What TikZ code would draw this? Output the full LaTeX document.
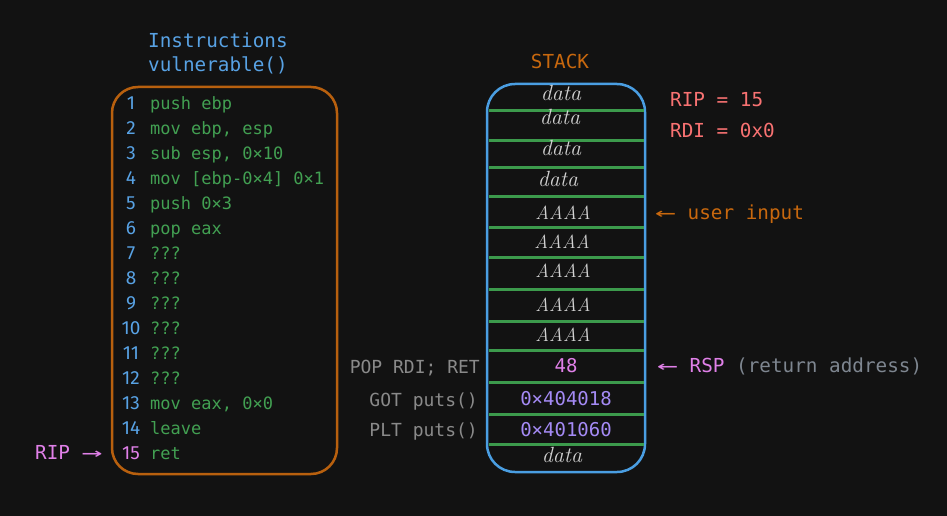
\documentclass[tikz,border=0pt]{standalone}
\usepackage{fontspec}
\newfontfamily\mono{DejaVu Sans Mono}
\newfontfamily\digits{Fira Sans}
\definecolor{bg}{HTML}{121212}
\definecolor{boxorange}{HTML}{B8600E}
\definecolor{txtorange}{HTML}{C8680E}
\definecolor{boxblue}{HTML}{4A9EE2}
\definecolor{numblue}{HTML}{58A2E4}
\definecolor{sepgreen}{HTML}{3C9A4C}
\definecolor{codegreen}{HTML}{42A052}
\definecolor{pinkc}{HTML}{E080E8}
\definecolor{purplec}{HTML}{A48AF4}
\definecolor{grayc}{HTML}{8A8A8A}
\definecolor{grayr}{HTML}{7E8690}
\definecolor{redc}{HTML}{F87272}
\definecolor{datac}{HTML}{D2D2D2}
\begin{document}
\begin{tikzpicture}[x=1pt,y=-1pt,
  ins/.style={anchor=mid west, inner sep=0pt, yshift=-4pt, text=codegreen, font=\mono\fontsize{17}{20}\selectfont},
  num/.style={anchor=mid, inner sep=0pt, yshift=-4pt, text=numblue, font=\digits\fontsize{19}{22}\selectfont},
  head/.style={anchor=mid west, inner sep=0pt, yshift=-4pt, font=\mono\fontsize{19.3}{22}\selectfont},
  hand/.style={anchor=mid, inner sep=0pt, yshift=-3pt, text=datac, font=\rmfamily\itshape\fontsize{22}{24}\selectfont},
  handA/.style={anchor=mid, inner sep=0pt, yshift=-4pt, text=datac, font=\rmfamily\itshape\fontsize{19}{22}\selectfont},
  val/.style={anchor=mid, inner sep=0pt, yshift=-4pt, font=\mono\fontsize{19}{22}\selectfont},
  lbl/.style={anchor=mid east, inner sep=0pt, yshift=-4pt, text=grayc, font=\mono\fontsize{18}{21}\selectfont},
  sep/.style={draw=sepgreen, line width=3pt}
]
\fill[bg] (0,0) rectangle (947,516);
\useasboundingbox (0,0) rectangle (947,516);

% Instructions header
\node[head, text=numblue] (h1) at (148,41) {Instructions};
\node[head, text=numblue] (h2) at (148,65) {vulnerable()};

% instruction box
\node[draw=boxorange, line width=2.5pt, rounded corners=26pt, minimum width=225pt, minimum height=387pt, inner sep=0pt] (ibox) at (224.5,280.5) {};

\foreach \n/\t [count=\k from 0] in {1/push ebp, 2/{mov ebp, esp}, 3/{sub esp, 0×10}, 4/{mov [ebp-0×4] 0×1}, 5/push 0×3, 6/pop eax, 7/???, 8/???, 9/???, 10/???, 11/???, 12/???, 13/{mov eax, 0×0}, 14/leave}{
  \node[num] (n\n) at (131,103+25*\k) {\n};
  \node[ins] (i\n) at (150,103+25*\k) {\t};
}
\node[num, text=pinkc] (n15) at (131,453) {15};
\node[ins] (i15) at (150,453) {ret};
\node[head, text=pinkc] (rip) at (35,453) {RIP \scalebox{1.8}[1]{→}};

% STACK
\node[head, text=txtorange, anchor=mid] (stk) at (560,62) {STACK};
\node[draw=boxblue, line width=2.5pt, rounded corners=28pt, minimum width=158pt, minimum height=388pt, inner sep=0pt] (sbox) at (566,278) {};

\foreach \y in {110.7,140,167.7,196,227.7,257.7,289,321.7,350.7,382,414.7,444}{
  \draw[sep] (489,\y) -- (644,\y);
}

\node[hand] (d1) at (561,95) {data};
\node[hand] (d2) at (560,119) {data};
\node[hand] (d3) at (561,150) {data};
\node[hand] (d4) at (558,181) {data};
\node[handA] (a1) at (563,213) {AAAA};
\node[handA] (a2) at (562,242) {AAAA};
\node[handA] (a3) at (563,271) {AAAA};
\node[handA] (a4) at (563,305) {AAAA};
\node[handA] (a5) at (563,335) {AAAA};
\node[val, text=pinkc] (v48) at (566,366) {48};
\node[val, text=purplec] (vgot) at (566,399) {0×404018};
\node[val, text=purplec] (vplt) at (566,430) {0×401060};
\node[hand] (d5) at (562,457) {data};

% left labels
\node[lbl] (l1) at (480,367) {POP RDI; RET};
\node[lbl] (l2) at (478,400) {GOT puts()};
\node[lbl] (l3) at (478,430) {PLT puts()};

% right labels
\node[head, text=redc] (r1) at (670,100) {RIP = 15};
\node[head, text=redc] (r2) at (670,131) {RDI = 0x0};
\node[head, text=txtorange] (ui) at (655,213) {\scalebox{1.8}[1]{←}~user input};
\node[head, text=pinkc] (rsp) at (657,366) {\scalebox{1.8}[1]{←}~RSP \textcolor{grayr}{(return address)}};
\end{tikzpicture}
\end{document}
